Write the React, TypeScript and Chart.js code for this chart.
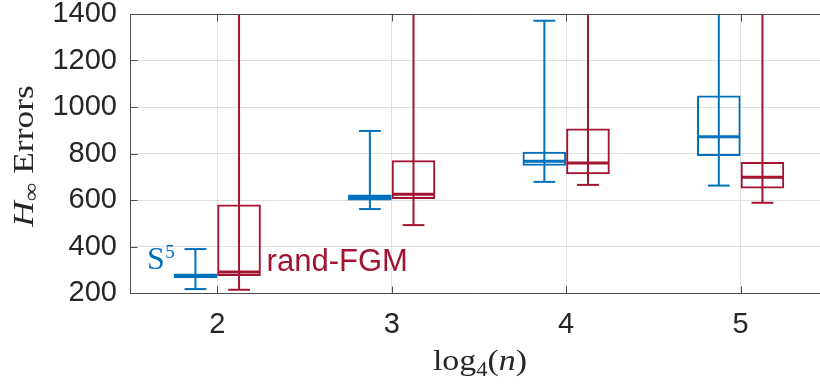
import React, { useEffect, useRef } from "react";
import { Chart, registerables } from "chart.js";

Chart.register(...registerables);

// ---- data ----
const positions = [2, 3, 4, 5];
const xTickLabels = ["2", "3", "4", "5"];
const yTickValues = [200, 400, 600, 800, 1000, 1200, 1400];

// S^5 (blue) box statistics
const s5Min = [217, 561, 678, 662];
const s5Q1 = [263, 598, 747, 789];
const s5Median = [273, 611, 767, 872];
const s5Q3 = [284, 624, 808, 1049];
const s5Max = [389, 897, 1371, 1560];

// rand-FGM (red) box statistics
const fgmMin = [214, 492, 665, 588];
const fgmQ1 = [273, 604, 711, 650];
const fgmMedian = [290, 625, 759, 698];
const fgmQ3 = [581, 771, 907, 763];
const fgmMax = [1900, 1700, 1650, 1500];

// ---- style ----
const BLUE = "#0072BD";
const RED = "#A2142F";
const GRID = "#dfdfdf";
const AXIS = "#4d4d4d";
const TEXT = "#262626";
const SANS = '"Liberation Sans", Arial, sans-serif';
const SERIF = '"Liberation Serif", "Times New Roman", serif';

// annotation anchors (data coordinates)
const s5LabelAnchor = { x: 1.597, y: 304 };
const fgmLabelAnchor = { x: 2.283, y: 294 };

function seg(ctx: CanvasRenderingContext2D, x1: number, y1: number, x2: number, y2: number) {
  ctx.beginPath();
  ctx.moveTo(x1, y1);
  ctx.lineTo(x2, y2);
  ctx.stroke();
}

type Part = { t: string; f: string; dy: number };

function drawParts(ctx: CanvasRenderingContext2D, parts: Part[], cx: number, baseY: number, stretch: number) {
  let total = 0;
  parts.forEach((p) => {
    ctx.font = p.f;
    total += ctx.measureText(p.t).width;
  });
  ctx.save();
  ctx.translate(cx, baseY);
  ctx.scale(stretch, 1);
  let x = -total / 2;
  parts.forEach((p) => {
    ctx.font = p.f;
    ctx.fillText(p.t, x, p.dy);
    x += ctx.measureText(p.t).width;
  });
  ctx.restore();
}

const boxPlotPlugin = {
  id: "boxPlotExtras",
  afterDatasetsDraw(chart: any) {
    const { ctx, chartArea: a, scales } = chart;
    const ys = scales.y;
    const series = [
      { min: s5Min, med: s5Median, max: s5Max, color: BLUE },
      { min: fgmMin, med: fgmMedian, max: fgmMax, color: RED },
    ];
    ctx.save();
    ctx.beginPath();
    ctx.rect(a.left, a.top, a.right - a.left, a.bottom - a.top);
    ctx.clip();
    ctx.lineCap = "butt";
    series.forEach((s, di) => {
      const meta = chart.getDatasetMeta(di);
      meta.data.forEach((bar: any, i: number) => {
        const { x, width } = bar.getProps(["x", "width"], true);
        const yMin = ys.getPixelForValue(s.min[i]);
        const yMax = ys.getPixelForValue(s.max[i]);
        const yMed = ys.getPixelForValue(s.med[i]);
        ctx.strokeStyle = s.color;
        ctx.lineWidth = 2;
        seg(ctx, x, yMin, x, yMax);
        const cw = width / 4;
        seg(ctx, x - cw, yMin, x + cw, yMin);
        seg(ctx, x - cw, yMax, x + cw, yMax);
        ctx.lineWidth = 3;
        seg(ctx, x - width / 2 + 1, yMed, x + width / 2 - 1, yMed);
      });
    });
    ctx.restore();
  },
  afterDraw(chart: any) {
    const { ctx, chartArea: a, scales } = chart;
    const xs = scales.x;
    const ys = scales.y;
    ctx.save();
    // frame
    ctx.strokeStyle = AXIS;
    ctx.lineWidth = 1;
    const L = Math.round(a.left) + 0.5;
    const T = Math.round(a.top) + 0.5;
    const B = Math.round(a.bottom) + 0.5;
    const R = chart.width + 2;
    seg(ctx, L, T, L, B);
    seg(ctx, L, T, R, T);
    seg(ctx, L, B, R, B);
    // inner ticks
    yTickValues.forEach((v) => {
      const py = Math.round(ys.getPixelForValue(v)) + 0.5;
      seg(ctx, L, py, L + 7, py);
    });
    positions.forEach((v) => {
      const px = Math.round(xs.getPixelForValue(v)) + 0.5;
      seg(ctx, px, B, px, B - 7);
      seg(ctx, px, T, px, T + 7);
    });

    // series annotations
    ctx.textBaseline = "alphabetic";
    ctx.textAlign = "left";
    let sx = xs.getPixelForValue(s5LabelAnchor.x);
    const sy = ys.getPixelForValue(s5LabelAnchor.y);
    ctx.fillStyle = BLUE;
    ctx.font = `32px ${SERIF}`;
    ctx.fillText("S", sx, sy);
    sx += ctx.measureText("S").width + 0.5;
    ctx.font = `19px ${SERIF}`;
    ctx.fillText("5", sx, sy - 11);

    ctx.fillStyle = RED;
    ctx.font = `31px ${SANS}`;
    ctx.fillText("rand-FGM", xs.getPixelForValue(fgmLabelAnchor.x), ys.getPixelForValue(fgmLabelAnchor.y));

    // y axis title: H_inf Errors (rotated)
    ctx.fillStyle = TEXT;
    ctx.save();
    ctx.translate(33, 156);
    ctx.rotate(-Math.PI / 2);
    drawParts(
      ctx,
      [
        { t: "H", f: `italic 30px ${SERIF}`, dy: 0 },
        { t: "\u221E", f: `22px ${SERIF}`, dy: 5 },
        { t: " Errors", f: `30px ${SERIF}`, dy: 0 },
      ],
      0,
      0,
      1.18
    );
    ctx.restore();

    // x axis title: log_4(n)
    drawParts(
      ctx,
      [
        { t: "log", f: `30px ${SERIF}`, dy: 0 },
        { t: "4", f: `20px ${SERIF}`, dy: 6 },
        { t: "(", f: `30px ${SERIF}`, dy: 0 },
        { t: "n", f: `italic 30px ${SERIF}`, dy: 0 },
        { t: ")", f: `30px ${SERIF}`, dy: 0 },
      ],
      480,
      370,
      1.13
    );
    ctx.restore();
  },
};

export default function App() {
  const canvasRef = useRef<HTMLCanvasElement | null>(null);

  useEffect(() => {
    const canvas = canvasRef.current;
    if (!canvas) return;
    const chart = new Chart(canvas, {
      type: "bar",
      data: {
        datasets: [
          {
            label: "S5",
            data: positions.map((p, i) => ({ x: p, y: [s5Q1[i], s5Q3[i]] })) as any,
            backgroundColor: "rgba(0,0,0,0)",
            borderColor: BLUE,
            borderWidth: 2,
            borderSkipped: false,
            categoryPercentage: 0.5,
            barPercentage: 1,
          },
          {
            label: "rand-FGM",
            data: positions.map((p, i) => ({ x: p, y: [fgmQ1[i], fgmQ3[i]] })) as any,
            backgroundColor: "rgba(0,0,0,0)",
            borderColor: RED,
            borderWidth: 2,
            borderSkipped: false,
            categoryPercentage: 0.5,
            barPercentage: 1,
          },
        ],
      },
      options: {
        responsive: false,
        animation: false,
        devicePixelRatio: 1,
        layout: { padding: 0 },
        plugins: {
          legend: { display: false },
          tooltip: { enabled: false },
        },
        scales: {
          x: {
            type: "linear",
            offset: false,
            min: 1.5,
            max: 5.455,
            afterBuildTicks: (s: any) => {
              s.ticks = positions.map((v) => ({ value: v }));
            },
            afterFit: (s: any) => {
              s.height = 91;
              s.paddingLeft = 0;
              s.paddingRight = 0;
            },
            ticks: {
              callback: (v: any) => xTickLabels[positions.indexOf(Number(v))] ?? "",
              font: { family: SANS, size: 29, lineHeight: 1.2 },
              color: TEXT,
              padding: 15,
              maxRotation: 0,
            },
            grid: { color: GRID, lineWidth: 1, drawTicks: false, offset: false },
            border: { display: false },
          },
          y: {
            type: "linear",
            min: 200,
            max: 1400,
            afterBuildTicks: (s: any) => {
              s.ticks = yTickValues.map((v) => ({ value: v }));
            },
            afterFit: (s: any) => {
              s.width = 130;
              s.paddingTop = 14;
              s.paddingBottom = 14;
            },
            ticks: {
              callback: (v: any) => String(v),
              font: { family: SANS, size: 29, lineHeight: 1.0 },
              color: TEXT,
              padding: 13,
            },
            grid: { color: GRID, lineWidth: 1, drawTicks: false },
            border: { display: false },
          },
        },
      },
      plugins: [boxPlotPlugin],
    });
    return () => chart.destroy();
  }, []);

  return (
    <div style={{ position: "fixed", left: 0, top: 0, width: 820, height: 384, background: "#fff" }}>
      <canvas ref={canvasRef} width={820} height={384} style={{ width: 820, height: 384, display: "block" }} />
    </div>
  );
}
